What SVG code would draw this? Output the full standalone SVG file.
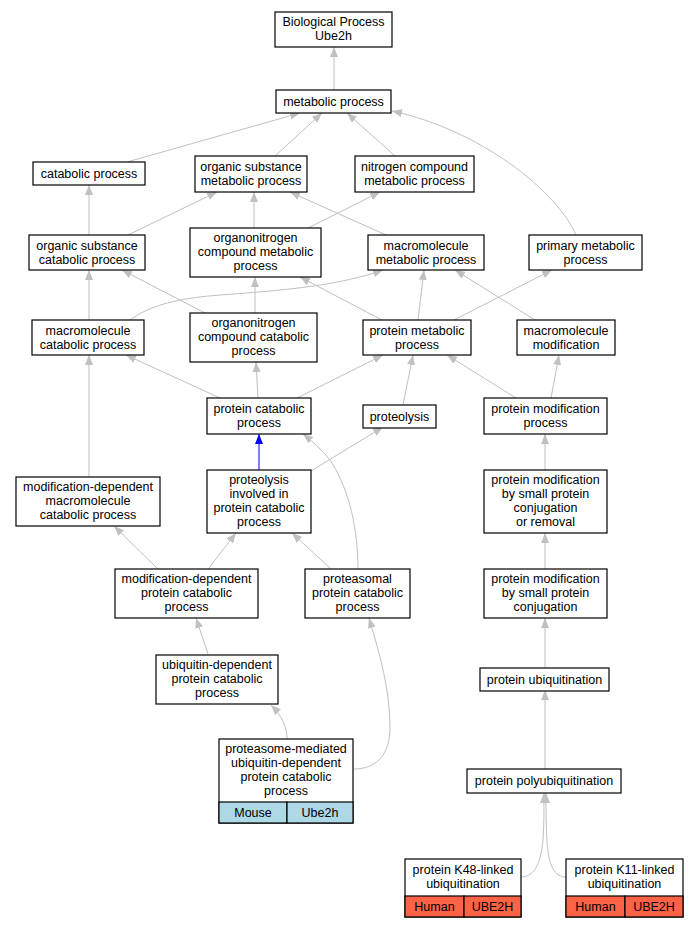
<svg xmlns="http://www.w3.org/2000/svg" width="697" height="928" viewBox="0 0 697 928">
<style>
.n rect{fill:#fff;stroke:#000;stroke-width:1.2}
text{font-family:"Liberation Sans",Arial,sans-serif;font-size:12.5px;text-anchor:middle;fill:#000}
.e path{fill:none;stroke:#c0c0c0;stroke-width:1}
.e path.b{stroke:#0000ff}
.mouse{fill:#add8e6 !important}
.human{fill:#ff6347 !important}
</style>
<defs>
<marker id="a" viewBox="0 0 10 8" refX="10" refY="4" markerWidth="10" markerHeight="8" markerUnits="userSpaceOnUse" orient="auto"><path d="M0,0L10,4L0,8z" fill="#c0c0c0"/></marker>
<marker id="ab" viewBox="0 0 10 8" refX="10" refY="4" markerWidth="10" markerHeight="8" markerUnits="userSpaceOnUse" orient="auto"><path d="M0,0L10,4L0,8z" fill="#0000ff"/></marker>
</defs>
<rect width="697" height="928" fill="#fff"/>
<g class="e" id="edges">
<path marker-end="url(#a)" d="M334,90L334,47"/>
<path marker-end="url(#a)" d="M127,162L300,113"/>
<path marker-end="url(#a)" d="M275,156L322,113"/>
<path marker-end="url(#a)" d="M395,156L347,113"/>
<path marker-end="url(#a)" d="M576,235C556,190 480,130 392,111"/>
<path marker-end="url(#a)" d="M89,235L89,185"/>
<path marker-end="url(#a)" d="M128,235L217,192"/>
<path marker-end="url(#a)" d="M254,228L254,192"/>
<path marker-end="url(#a)" d="M308,228L380,192"/>
<path marker-end="url(#a)" d="M386,235L290,192"/>
<path marker-end="url(#a)" d="M89,320L89,270"/>
<path marker-end="url(#a)" d="M205,313L122,270"/>
<path marker-end="url(#a)" d="M130,320C150,305 180,298 220,295C290,290 340,285 383,270"/>
<path marker-end="url(#a)" d="M255,313L255,277"/>
<path marker-end="url(#a)" d="M382,320L300,277"/>
<path marker-end="url(#a)" d="M418,320L424,270"/>
<path marker-end="url(#a)" d="M454,320L552,270"/>
<path marker-end="url(#a)" d="M535,320L455,270"/>
<path marker-end="url(#a)" d="M220,398L126,355"/>
<path marker-end="url(#a)" d="M258,398L256,362"/>
<path marker-end="url(#a)" d="M297,398L383,355"/>
<path marker-end="url(#a)" d="M403,405L413,355"/>
<path marker-end="url(#a)" d="M516,398L447,355"/>
<path marker-end="url(#a)" d="M551,398L559,355"/>
<path class="b" marker-end="url(#ab)" d="M259,470L259,434"/>
<path marker-end="url(#a)" d="M311,471L383,427"/>
<path marker-end="url(#a)" d="M358,569C358,520 345,482 330,460C322,450 312,441 303,434"/>
<path marker-end="url(#a)" d="M89,477L89,355"/>
<path marker-end="url(#a)" d="M545,470L545,434"/>
<path marker-end="url(#a)" d="M158,569L114,526"/>
<path marker-end="url(#a)" d="M208,569L236,533"/>
<path marker-end="url(#a)" d="M331,569L292,533"/>
<path marker-end="url(#a)" d="M545,569L545,533"/>
<path marker-end="url(#a)" d="M208,654L196,618"/>
<path marker-end="url(#a)" d="M545,668L545,618"/>
<path marker-end="url(#a)" d="M287,739C287,727 282,716 271,705"/>
<path marker-end="url(#a)" d="M354,769C376,769 390,755 390,728C390,690 380,655 369,618"/>
<path marker-end="url(#a)" d="M545,769L545,690"/>
<path marker-end="url(#a)" d="M521,877C536,877 541,860 543,840C544,826 544,810 544,793"/>
<path marker-end="url(#a)" d="M566,877C552,877 548,860 547,840C546,826 546,810 546,793"/>
</g>
<g class="n" id="n1"><rect x="275" y="12" width="117" height="35"/><text x="333.5" y="25.5">Biological Process<tspan x="333.5" dy="14">Ube2h</tspan></text></g>
<g class="n" id="n2"><rect x="276" y="90" width="115" height="23"/><text x="333.5" y="106">metabolic process</text></g>
<g class="n" id="n3"><rect x="33" y="162" width="112" height="23"/><text x="89" y="178">catabolic process</text></g>
<g class="n" id="n4"><rect x="195" y="156" width="112" height="36"/><text x="251" y="170.5">organic substance<tspan x="251" dy="14">metabolic process</tspan></text></g>
<g class="n" id="n5"><rect x="355" y="156" width="119" height="36"/><text x="414.5" y="170.5">nitrogen compound<tspan x="414.5" dy="14">metabolic process</tspan></text></g>
<g class="n" id="n6"><rect x="29" y="235" width="116" height="35"/><text x="87" y="249.5">organic substance<tspan x="87" dy="14">catabolic process</tspan></text></g>
<g class="n" id="n7"><rect x="190" y="228" width="131" height="49"/><text x="255.5" y="242">organonitrogen<tspan x="255.5" dy="14">compound metabolic</tspan><tspan x="255.5" dy="14">process</tspan></text></g>
<g class="n" id="n8"><rect x="368" y="235" width="116" height="35"/><text x="426" y="249.5">macromolecule<tspan x="426" dy="14">metabolic process</tspan></text></g>
<g class="n" id="n9"><rect x="529" y="235" width="113" height="35"/><text x="585.5" y="249.5">primary metabolic<tspan x="585.5" dy="14">process</tspan></text></g>
<g class="n" id="n10"><rect x="32" y="320" width="112" height="35"/><text x="88" y="334.5">macromolecule<tspan x="88" dy="14">catabolic process</tspan></text></g>
<g class="n" id="n11"><rect x="190" y="313" width="127" height="49"/><text x="253.5" y="327">organonitrogen<tspan x="253.5" dy="14">compound catabolic</tspan><tspan x="253.5" dy="14">process</tspan></text></g>
<g class="n" id="n12"><rect x="363" y="320" width="108" height="35"/><text x="417" y="334.5">protein metabolic<tspan x="417" dy="14">process</tspan></text></g>
<g class="n" id="n13"><rect x="517" y="320" width="98" height="35"/><text x="566" y="334.5">macromolecule<tspan x="566" dy="14">modification</tspan></text></g>
<g class="n" id="n14"><rect x="207" y="398" width="104" height="36"/><text x="259" y="412.5">protein catabolic<tspan x="259" dy="14">process</tspan></text></g>
<g class="n" id="n15"><rect x="363" y="405" width="73" height="23"/><text x="399.5" y="421">proteolysis</text></g>
<g class="n" id="n16"><rect x="484" y="398" width="123" height="36"/><text x="545.5" y="412.5">protein modification<tspan x="545.5" dy="14">process</tspan></text></g>
<g class="n" id="n17"><rect x="16" y="477" width="144" height="49"/><text x="88" y="491">modification-dependent<tspan x="88" dy="14">macromolecule</tspan><tspan x="88" dy="14">catabolic process</tspan></text></g>
<g class="n" id="n18"><rect x="207" y="470" width="104" height="63"/><text x="259" y="483.5">proteolysis<tspan x="259" dy="14">involved in</tspan><tspan x="259" dy="14">protein catabolic</tspan><tspan x="259" dy="14">process</tspan></text></g>
<g class="n" id="n19"><rect x="484" y="470" width="123" height="63"/><text x="545.5" y="483.5">protein modification<tspan x="545.5" dy="14">by small protein</tspan><tspan x="545.5" dy="14">conjugation</tspan><tspan x="545.5" dy="14">or removal</tspan></text></g>
<g class="n" id="n20"><rect x="115" y="569" width="143" height="49"/><text x="186.5" y="583">modification-dependent<tspan x="186.5" dy="14">protein catabolic</tspan><tspan x="186.5" dy="14">process</tspan></text></g>
<g class="n" id="n21"><rect x="305" y="569" width="105" height="49"/><text x="357.5" y="583">proteasomal<tspan x="357.5" dy="14">protein catabolic</tspan><tspan x="357.5" dy="14">process</tspan></text></g>
<g class="n" id="n22"><rect x="484" y="569" width="123" height="49"/><text x="545.5" y="583">protein modification<tspan x="545.5" dy="14">by small protein</tspan><tspan x="545.5" dy="14">conjugation</tspan></text></g>
<g class="n" id="n23"><rect x="156" y="655" width="122" height="49"/><text x="217" y="669">ubiquitin-dependent<tspan x="217" dy="14">protein catabolic</tspan><tspan x="217" dy="14">process</tspan></text></g>
<g class="n" id="n24"><rect x="480" y="668" width="129" height="23"/><text x="544.5" y="684">protein ubiquitination</text></g>
<g class="n" id="n25"><rect x="219" y="739" width="134" height="84"/><rect class="mouse" x="219" y="802" width="68" height="21"/><rect class="mouse" x="287" y="802" width="66" height="21"/><text x="286" y="752.5">proteasome-mediated<tspan x="286" dy="14">ubiquitin-dependent</tspan><tspan x="286" dy="14">protein catabolic</tspan><tspan x="286" dy="14">process</tspan></text><text x="253" y="817">Mouse</text><text x="320" y="817">Ube2h</text></g>
<g class="n" id="n26"><rect x="467" y="769" width="154" height="24"/><text x="544" y="785">protein polyubiquitination</text></g>
<g class="n" id="n27"><rect x="405" y="859" width="116" height="58"/><rect class="human" x="405" y="896" width="59" height="21"/><rect class="human" x="464" y="896" width="57" height="21"/><text x="463" y="873.5">protein K48-linked<tspan x="463" dy="14">ubiquitination</tspan></text><text x="434.5" y="911">Human</text><text x="492.5" y="911">UBE2H</text></g>
<g class="n" id="n28"><rect x="566" y="859" width="117" height="58"/><rect class="human" x="566" y="896" width="59" height="21"/><rect class="human" x="625" y="896" width="58" height="21"/><text x="624.5" y="873.5">protein K11-linked<tspan x="624.5" dy="14">ubiquitination</tspan></text><text x="595.5" y="911">Human</text><text x="654" y="911">UBE2H</text></g>
</svg>
